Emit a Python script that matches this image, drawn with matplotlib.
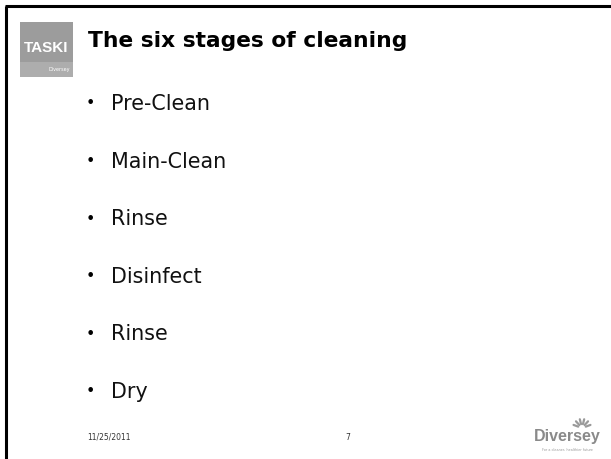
import matplotlib
matplotlib.use("Agg")
import matplotlib.pyplot as plt
from matplotlib.patches import Rectangle
import numpy as np

# Slide content
title = "The six stages of cleaning"
stages = ["Pre-Clean", "Main-Clean", "Rinse", "Disinfect", "Rinse", "Dry"]
footer_date = "11/25/2011"
page_number = "7"

W, H = 611, 459
fig = plt.figure(figsize=(W / 100, H / 100), dpi=100)
ax = fig.add_axes([0, 0, 1, 1])
ax.set_xlim(0, W)
ax.set_ylim(H, 0)
ax.axis("off")

# Frame (left and top only)
ax.plot([6, 6], [6, H], color="black", lw=2.2, solid_capstyle="butt")
ax.plot([5, W], [6, 6], color="black", lw=2.2, solid_capstyle="butt")

# TASKI logo
ax.add_patch(Rectangle((20, 22), 53, 55, color="#9c9c9c", lw=0))
ax.add_patch(Rectangle((20, 62), 53, 15, color="#adadad", lw=0))
ax.text(46, 48, "TASKI", color="white", fontsize=11, fontweight="bold",
        ha="center", va="center", family="Liberation Sans")
ax.text(70, 70, "Diversey", color="white", fontsize=3.5, ha="right",
        va="center")

# Title
ax.text(88, 41, title, fontsize=15.7, fontweight="bold", ha="left",
        va="center")

# Bullets
y0, step = 104, 57.6
for i, s in enumerate(stages):
    y = y0 + i * step
    ax.text(90, y, "\u2022", fontsize=11.5, ha="center", va="center")
    ax.text(111, y, s, fontsize=14.9, ha="left", va="center", color="#111111")

# Footer
ax.text(87, 437, footer_date, fontsize=5.5, ha="left", va="center",
        color="#333333")
ax.text(348, 437, page_number, fontsize=5.5, ha="center", va="center",
        color="#333333")

# Diversey logo
ax.text(567, 437, "Diversey", fontsize=11.5, fontweight="bold", ha="center",
        va="center", color="#8a8a8a", family="Liberation Sans")
ax.text(568, 450, "For a cleaner, healthier future", fontsize=2.4,
        ha="center", va="center", color="#999999")
for ang in np.linspace(200, 340, 6):
    a = np.deg2rad(ang)
    ax.plot([582 + 4 * np.cos(a), 582 + 9 * np.cos(a)],
            [428 + 4 * np.sin(a), 428 + 9 * np.sin(a)],
            color="#9a9a9a", lw=1.6, solid_capstyle="round")

fig.savefig("out.png", dpi=100)
